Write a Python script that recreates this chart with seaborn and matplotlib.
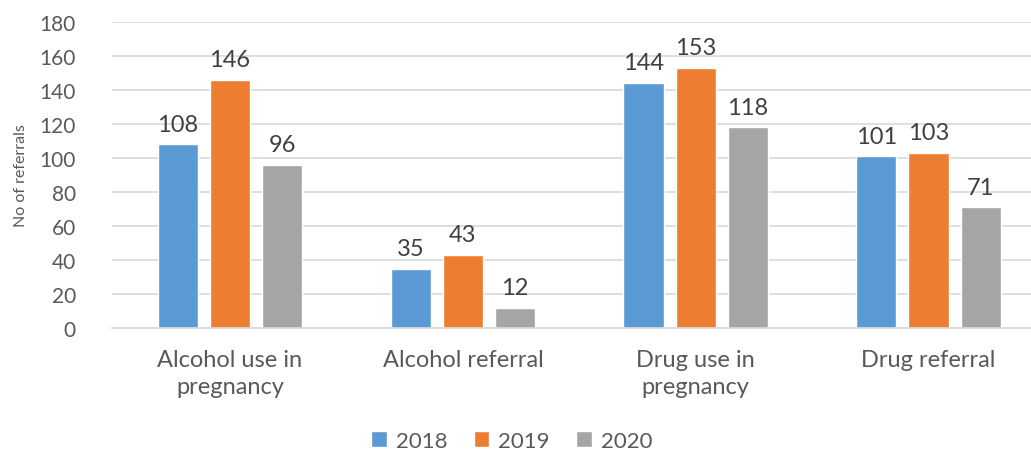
import matplotlib
matplotlib.use("Agg")
import matplotlib.pyplot as plt
import seaborn as sns
import pandas as pd

categories = ["Alcohol use in\npregnancy", "Alcohol referral", "Drug use in\npregnancy", "Drug referral"]
years = ["2018", "2019", "2020"]
v2018 = [108, 35, 144, 101]
v2019 = [146, 43, 153, 103]
v2020 = [96, 12, 118, 71]
colors = ["#5B9BD5", "#ED7D31", "#A5A5A5"]

rows = []
for yr, vals in zip(years, [v2018, v2019, v2020]):
    for c, v in zip(categories, vals):
        rows.append({"cat": c, "year": yr, "val": v})
df = pd.DataFrame(rows)

sns.set_theme(style="white")
plt.rcParams['font.family'] = ['Lato', 'DejaVu Sans']

fig = plt.figure(figsize=(10.31, 4.52), dpi=100)
ax = fig.add_axes([112/1031, 1 - 329/452, 1 - 112/1031, (329 - 23)/452])

sns.barplot(data=df, x="cat", y="val", hue="year", palette=colors, ax=ax,
            width=0.672, gap=0.23, saturation=1, legend=True)

ax.set_ylim(0, 180)
ax.set_xlim(-0.507, 3.44)
ax.set_yticks(range(0, 181, 20))
ax.yaxis.grid(True, color="#D9D9D9", linewidth=1.2)
ax.set_axisbelow(True)
for s in ["top", "right", "left"]:
    ax.spines[s].set_visible(False)
ax.spines["bottom"].set_color("#D9D9D9")
ax.spines["bottom"].set_linewidth(1.2)
ax.tick_params(axis="y", labelsize=15, colors="#595959", length=0, pad=26)
ax.tick_params(axis="x", labelsize=17, colors="#595959", length=0, pad=15)
for lbl in ax.get_xticklabels():
    lbl.set_linespacing(1.35)
ax.set_xlabel("")
ax.set_ylabel("No of referrals", fontsize=11.5, color="#595959", labelpad=8)

for cont in ax.containers:
    ax.bar_label(cont, fontsize=17, color="#404040", padding=7)

ax.legend(loc="upper center", bbox_to_anchor=(0.435, -0.27), ncol=3, frameon=False,
          fontsize=16, handlelength=0.7, handleheight=0.7, handletextpad=0.4,
          columnspacing=1.2, labelcolor="#595959")

fig.savefig("out.png", dpi=100)
